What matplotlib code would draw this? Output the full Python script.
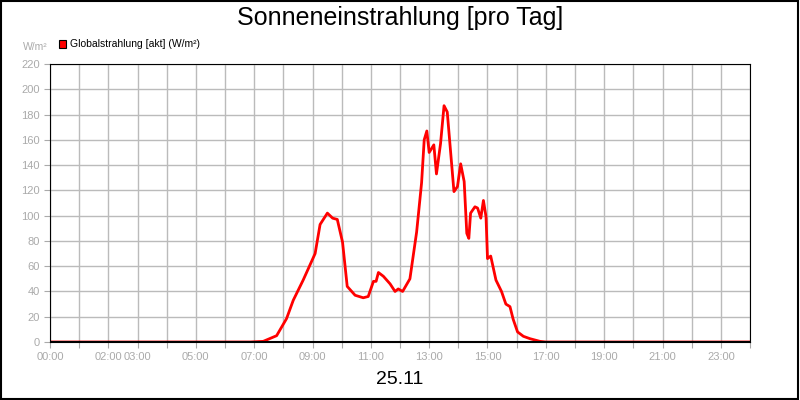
import matplotlib
matplotlib.use("Agg")
import matplotlib.pyplot as plt
from matplotlib.patches import Rectangle

plt.rcParams["font.family"] = "Liberation Sans"

# time in hours, global radiation W/m²
hours = [0, 6.86, 7.31, 7.77, 8.11, 8.34, 8.68, 9.09, 9.26, 9.51, 9.69, 9.85, 10.03, 10.19,
         10.46, 10.74, 10.91, 11.09, 11.18, 11.26, 11.43, 11.66, 11.83, 11.94, 12.09, 12.34,
         12.57, 12.74, 12.83, 12.92, 13.0, 13.16, 13.25, 13.39, 13.51, 13.62, 13.85, 13.97,
         14.08, 14.2, 14.29, 14.36, 14.42, 14.57, 14.66, 14.77, 14.86, 14.95, 15.0, 15.11,
         15.29, 15.48, 15.63, 15.77, 15.88, 16.03, 16.23, 16.46, 16.8, 17.0, 24]
radiation = [0, 0, 0.5, 5, 18.5, 33, 49, 70, 93, 102, 98, 97, 79, 44,
             37, 35, 36, 48, 48, 55, 52, 46, 40, 42, 40, 50,
             87, 126, 160, 167, 150, 156, 133, 157, 187, 182, 119, 123,
             141, 127, 86, 82, 102, 107, 106, 98, 112, 99, 66, 68,
             49, 40, 30, 28, 18, 8, 4.5, 2.6, 0.5, 0, 0]
tick_pos = [0, 2, 3, 5, 7, 9, 11, 13, 15, 17, 19, 21, 23]
tick_labels = ["00:00", "02:00", "03:00", "05:00", "07:00", "09:00", "11:00",
               "13:00", "15:00", "17:00", "19:00", "21:00", "23:00"]

fig = plt.figure(figsize=(8, 4), dpi=100)
fig.patches.append(Rectangle((0.001, 0.002), 0.997, 0.995, transform=fig.transFigure,
                             fill=False, edgecolor="black", linewidth=1.5))
ax = fig.add_axes([50/800, 58/400, 700/800, 278/400])
ax.plot(hours, radiation, color="red", linewidth=2, label="Globalstrahlung [akt] (W/m²)")
ax.set_xlim(0, 24)
ax.set_ylim(0, 220)
ax.set_yticks(range(0, 221, 20))
ax.set_xticks(range(0, 25))
ax.set_xticklabels([tick_labels[tick_pos.index(h)] if h in tick_pos else "" for h in range(25)])
ax.grid(True, color="#bbbbbb", linewidth=1)
ax.set_axisbelow(True)
ax.tick_params(colors="#aaaaaa", labelsize=8, length=4)
for s in ax.spines.values():
    s.set_color("black")
ax.axhline(0, color="black", linewidth=1.5)

fig.text(0.5, 0.955, "Sonneneinstrahlung [pro Tag]", ha="center", va="center", fontsize=18)
fig.text(0.5, 0.05, "25.11", ha="center", va="center", fontsize=14)
fig.text(48/800, 353/400, "W/m²", ha="right", va="center", fontsize=7.5, color="#aaaaaa")
fig.patches.append(Rectangle((59/800, 352/400), 7/800, 8/400, transform=fig.transFigure,
                             facecolor="red", edgecolor="black", linewidth=0.8))
fig.text(70/800, 356/400, "Globalstrahlung [akt] (W/m²)", ha="left", va="center", fontsize=7.5)

fig.savefig("out.png", dpi=100)
